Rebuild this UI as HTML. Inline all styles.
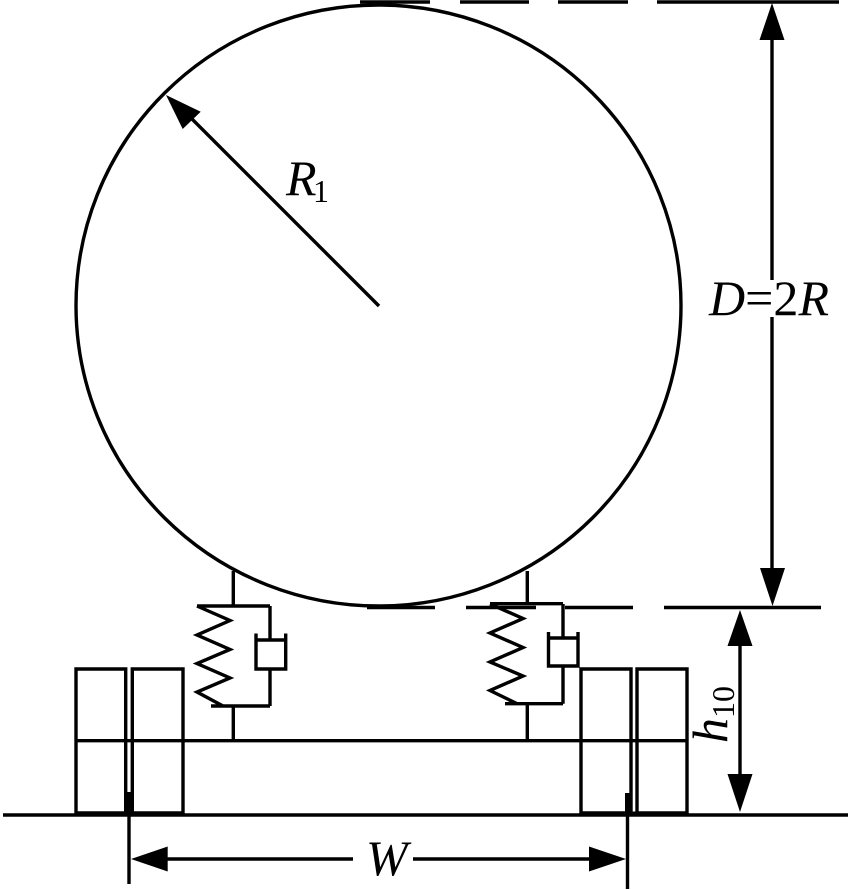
<!DOCTYPE html>
<html>
<head>
<meta charset="utf-8">
<style>
html,body{margin:0;padding:0;background:#fff;}
svg{display:block;}
text{font-family:"Liberation Serif",serif;fill:#000;}
.i{font-style:italic;}
</style>
</head>
<body>
<svg width="850" height="890" viewBox="0 0 850 890" xmlns="http://www.w3.org/2000/svg">
<rect width="850" height="890" fill="#fff"/>
<g fill="none" stroke="#000" stroke-width="3.400">
  <ellipse cx="378.5" cy="305.5" rx="302.5" ry="300.5"/>
  <!-- top dashes -->
  <path d="M360 2H430M460 2H529M558 2H628M657 2H839"/>
  <!-- mid dashes -->
  <path d="M367 607.5H435M466 607.5H536M565 607.5H633M664 607.5H821"/>
  <!-- radius -->
  <path d="M379 306L190 117"/>
  <!-- dimension D -->
  <path d="M772 38V280M772 317V570"/>
  <!-- dimension h10 -->
  <path d="M740 644V776"/>
  <!-- ground -->
  <path d="M3 815H848"/>
  <!-- W dim -->
  <path d="M129 815V884M627.5 815V889"/>
  <path d="M166 859H353M413 859H592"/>
  <!-- wheels -->
  <path d="M76 669H125.7V813H76ZM132.3 669H183V813H132.3Z"/>
  <path d="M581 669H631V813H581ZM637 669H687V813H637Z"/>
  <path d="M76 740.7H687"/>
  <!-- left suspension -->
  <path d="M233.3 571V606M197 606H270M197 606L230 620.5L197 635L230 649.5L197 663.5L230 678L197 692L223 706M211 706H270M233.3 706V740M270 606V640M270 669V706"/>
  <path d="M256 633.500V669H285.700V633.500M256 640H285.700"/>
  <!-- right suspension -->
  <path d="M527.300 571V604M490 603.700H563M490 604L523 618.500L490 633L523 647.500L490 662L523 676L490 690.500L517 703.700M505 703.700H563M527.300 703.700V740M563 604V638M563 666V703.700"/>
  <path d="M548.500 632V666H578V632M548.500 638H578"/>
</g>
<g fill="#000" stroke="none">
  <!-- wheel bottoms thick -->
  <rect x="76" y="811.500" width="107" height="3.500"/>
  <rect x="581" y="811.500" width="106" height="3.500"/>
  <rect x="126" y="792" width="6" height="23"/>
  <rect x="625" y="793" width="6" height="22"/>
  <!-- arrowheads -->
  <polygon points="166,95 200.700,111.700 182.700,129"/>
  <polygon points="772,3 759.500,40 784.500,40"/>
  <polygon points="772.500,606 760,568 785,568"/>
  <polygon points="740,610 727.500,646 752.500,646"/>
  <polygon points="740,812 727.500,774 752.500,774"/>
  <polygon points="131,859 167.700,846.500 167.700,871.500"/>
  <polygon points="626,859 589,846.500 589,871.500"/>
</g>
<text class="i" x="286" y="195" font-size="50">R</text>
<text x="313" y="202" font-size="32">1</text>
<text x="709" y="315" font-size="50" textLength="120" lengthAdjust="spacing"><tspan class="i">D</tspan>=2<tspan class="i">R</tspan></text>
<text class="i" x="366" y="875" font-size="50">W</text>
<text transform="translate(727 743) rotate(-90)" font-size="50"><tspan class="i">h</tspan><tspan font-size="32" dy="7">10</tspan></text>
</svg>
</body>
</html>
